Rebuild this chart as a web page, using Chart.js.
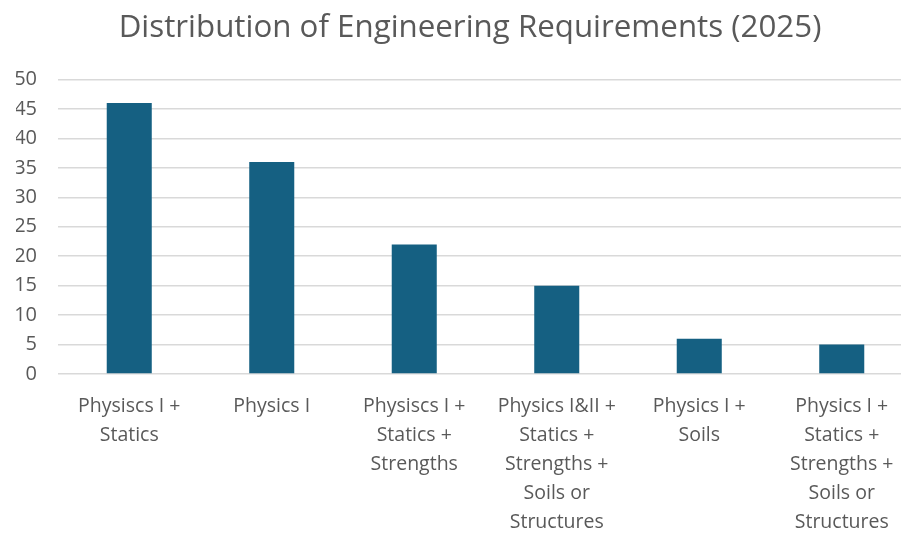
<!DOCTYPE html>
<html>
<head>
<meta charset="utf-8">
<script src="https://cdn.jsdelivr.net/npm/chart.js@4"></script>
<style>
  html, body { margin: 0; padding: 0; background: #ffffff; overflow: hidden; width: 901px; height: 533px; }
  #wrap { position: relative; width: 924px; height: 555px; }
</style>
</head>
<body>
<div id="wrap"><canvas id="c"></canvas></div>
<script>
const titleText = "Distribution of Engineering Requirements (2025)";
const categories = [
  ["Physiscs I +", "Statics"],
  ["Physics I"],
  ["Physiscs I +", "Statics +", "Strengths"],
  ["Physics I&II +", "Statics +", "Strengths +", "Soils or", "Structures"],
  ["Physics I +", "Soils"],
  ["Physics I +", "Statics +", "Strengths +", "Soils or", "Structures"]
];
const counts = [46, 36, 22, 15, 6, 5];
const yMin = 0, yMax = 50, yStep = 5;

const FONT = "'Open Sans', Lato, sans-serif";
const TEXT = "#595959";

new Chart(document.getElementById("c"), {
  type: "bar",
  data: {
    labels: categories,
    datasets: [{
      data: counts,
      backgroundColor: "#156082",
      borderWidth: 0,
      categoryPercentage: 1,
      barPercentage: 0.316
    }]
  },
  options: {
    responsive: true,
    maintainAspectRatio: false,
    animation: false,
    devicePixelRatio: 1,
    layout: { padding: { left: 16, right: 0, top: 0, bottom: 0 } },
    plugins: {
      legend: { display: false },
      tooltip: { enabled: false },
      title: {
        display: true,
        text: titleText,
        color: TEXT,
        font: { family: FONT, size: 31.3, weight: "normal" },
        padding: { top: 9, bottom: 33 }
      }
    },
    scales: {
      x: {
        grid: { display: false, drawTicks: false },
        border: { display: false },
        ticks: {
          color: TEXT,
          font: { family: FONT, size: 19.5, lineHeight: "29px" },
          maxRotation: 0,
          autoSkip: false,
          padding: 18
        }
      },
      y: {
        min: yMin,
        max: yMax,
        ticks: {
          stepSize: yStep,
          autoSkip: false,
          color: TEXT,
          font: { family: FONT, size: 20 },
          padding: 21
        },
        grid: { color: "#d9d9d9", lineWidth: 1.5, drawTicks: false },
        border: { display: false },
        afterFit: (s) => { s.width = 42; }
      },
      y2: {
        position: "right",
        display: true,
        grid: { display: false },
        border: { display: false },
        ticks: { display: false },
        afterFit: (s) => { s.width = 11; }
      }
    }
  }
});
</script>
</body>
</html>
